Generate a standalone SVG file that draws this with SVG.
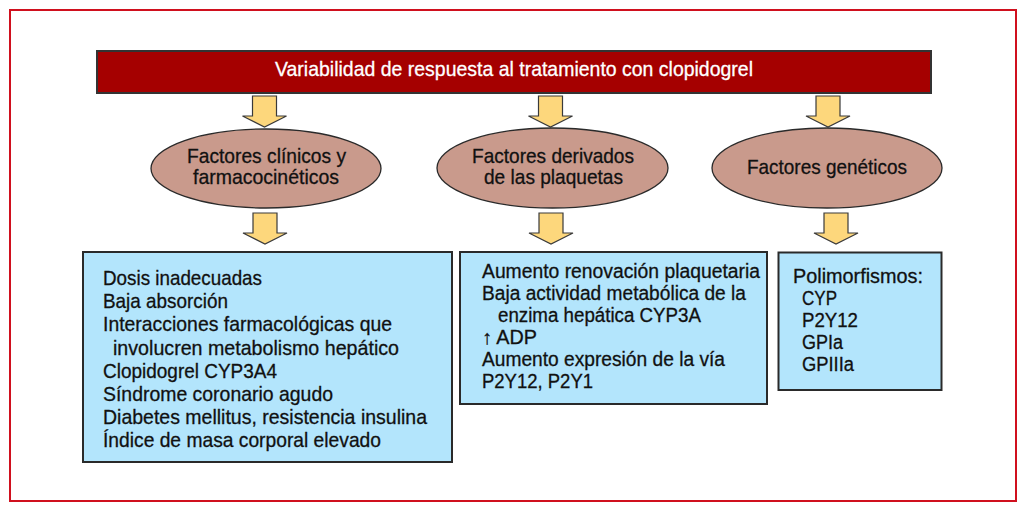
<svg xmlns="http://www.w3.org/2000/svg" xmlns:xlink="http://www.w3.org/1999/xlink" width="1024" height="510" viewBox="0 0 1024 510">
<style>
text{font-family:"Liberation Sans",Arial,sans-serif;fill:#111111;stroke:#111111;stroke-width:0.3}
.t{font-size:21px;fill:#ffffff;stroke:#ffffff}
.e{font-size:21px}
.b1{font-size:21px}
.b2{font-size:20px}
.ell{fill:#c99a8c;stroke:#2a2a2a;stroke-width:1.3}
.box{fill:#b3e5fc;stroke:#2a2a2a;stroke-width:2}
.arr{fill:#fdd77c;stroke:#3a3a3a;stroke-width:1.2}
</style>
<defs>
<path id="arrow" d="M-12,0 H12 V20 H22 L0,31 L-22,20 H-12 Z"/>
</defs>
<rect x="10" y="10" width="1006" height="491" fill="#ffffff" stroke="#d0101e" stroke-width="2"/>
<g id="title">
<rect x="97" y="51" width="834" height="42" fill="#a50000" stroke="#333333" stroke-width="2"/>
<text class="t" x="275" y="76" textLength="478" lengthAdjust="spacingAndGlyphs">Variabilidad de respuesta al tratamiento con clopidogrel</text>
</g>
<g id="connectors">
<use xlink:href="#arrow" class="arr" transform="translate(264.5,96)"/>
<use xlink:href="#arrow" class="arr" transform="translate(550.5,96)"/>
<use xlink:href="#arrow" class="arr" transform="translate(828,96)"/>
<use xlink:href="#arrow" class="arr" transform="translate(265,213)"/>
<use xlink:href="#arrow" class="arr" transform="translate(551,213)"/>
<use xlink:href="#arrow" class="arr" transform="translate(836,213)"/>
</g>
<g id="clinicos">
<ellipse class="ell" cx="266" cy="168.5" rx="115" ry="39.5"/>
<text class="e" x="187" y="163" textLength="159" lengthAdjust="spacingAndGlyphs">Factores clínicos y</text>
<text class="e" x="193" y="184" textLength="146" lengthAdjust="spacingAndGlyphs">farmacocinéticos</text>
</g>
<g id="plaquetas">
<ellipse class="ell" cx="552.5" cy="168" rx="115.5" ry="40"/>
<text class="e" x="472" y="163" textLength="162" lengthAdjust="spacingAndGlyphs">Factores derivados</text>
<text class="e" x="484" y="184" textLength="139" lengthAdjust="spacingAndGlyphs">de las plaquetas</text>
</g>
<g id="geneticos">
<ellipse class="ell" cx="827" cy="168" rx="115" ry="40"/>
<text class="e" x="747" y="173.5" textLength="160" lengthAdjust="spacingAndGlyphs">Factores genéticos</text>
</g>
<g id="box1">
<rect class="box" x="83" y="252" width="369" height="210"/>
<text class="b1" x="103" y="285" textLength="159" lengthAdjust="spacingAndGlyphs">Dosis inadecuadas</text>
<text class="b1" x="103" y="308.2" textLength="125" lengthAdjust="spacingAndGlyphs">Baja absorción</text>
<text class="b1" x="103" y="331.4" textLength="289" lengthAdjust="spacingAndGlyphs">Interacciones farmacológicas que</text>
<text class="b1" x="113" y="354.6" textLength="286" lengthAdjust="spacingAndGlyphs">involucren metabolismo hepático</text>
<text class="b1" x="103" y="377.8" textLength="174" lengthAdjust="spacingAndGlyphs">Clopidogrel CYP3A4</text>
<text class="b1" x="103" y="401" textLength="230" lengthAdjust="spacingAndGlyphs">Síndrome coronario agudo</text>
<text class="b1" x="103" y="424.2" textLength="324" lengthAdjust="spacingAndGlyphs">Diabetes mellitus, resistencia insulina</text>
<text class="b1" x="103" y="447.4" textLength="278" lengthAdjust="spacingAndGlyphs">Índice de masa corporal elevado</text>
</g>
<g id="box2">
<rect class="box" x="460" y="252" width="307" height="152"/>
<text class="b2" x="482" y="277.5" textLength="278" lengthAdjust="spacingAndGlyphs">Aumento renovación plaquetaria</text>
<text class="b2" x="482" y="299.5" textLength="264" lengthAdjust="spacingAndGlyphs">Baja actividad metabólica de la</text>
<text class="b2" x="498" y="321.5" textLength="203" lengthAdjust="spacingAndGlyphs">enzima hepática CYP3A</text>
<text class="b2" x="482" y="343.5" textLength="55" lengthAdjust="spacingAndGlyphs">↑ ADP</text>
<text class="b2" x="482" y="365.5" textLength="243" lengthAdjust="spacingAndGlyphs">Aumento expresión de la vía</text>
<text class="b2" x="482" y="387.5" textLength="111" lengthAdjust="spacingAndGlyphs">P2Y12, P2Y1</text>
</g>
<g id="box3">
<rect class="box" x="778.5" y="252.5" width="163" height="137.5"/>
<text class="b2" x="793" y="283" textLength="130" lengthAdjust="spacingAndGlyphs">Polimorfismos:</text>
<text class="b2" x="802" y="305" textLength="35" lengthAdjust="spacingAndGlyphs">CYP</text>
<text class="b2" x="802" y="327" textLength="56" lengthAdjust="spacingAndGlyphs">P2Y12</text>
<text class="b2" x="802" y="349" textLength="41" lengthAdjust="spacingAndGlyphs">GPIa</text>
<text class="b2" x="802" y="371" textLength="52" lengthAdjust="spacingAndGlyphs">GPIIIa</text>
</g>
</svg>
